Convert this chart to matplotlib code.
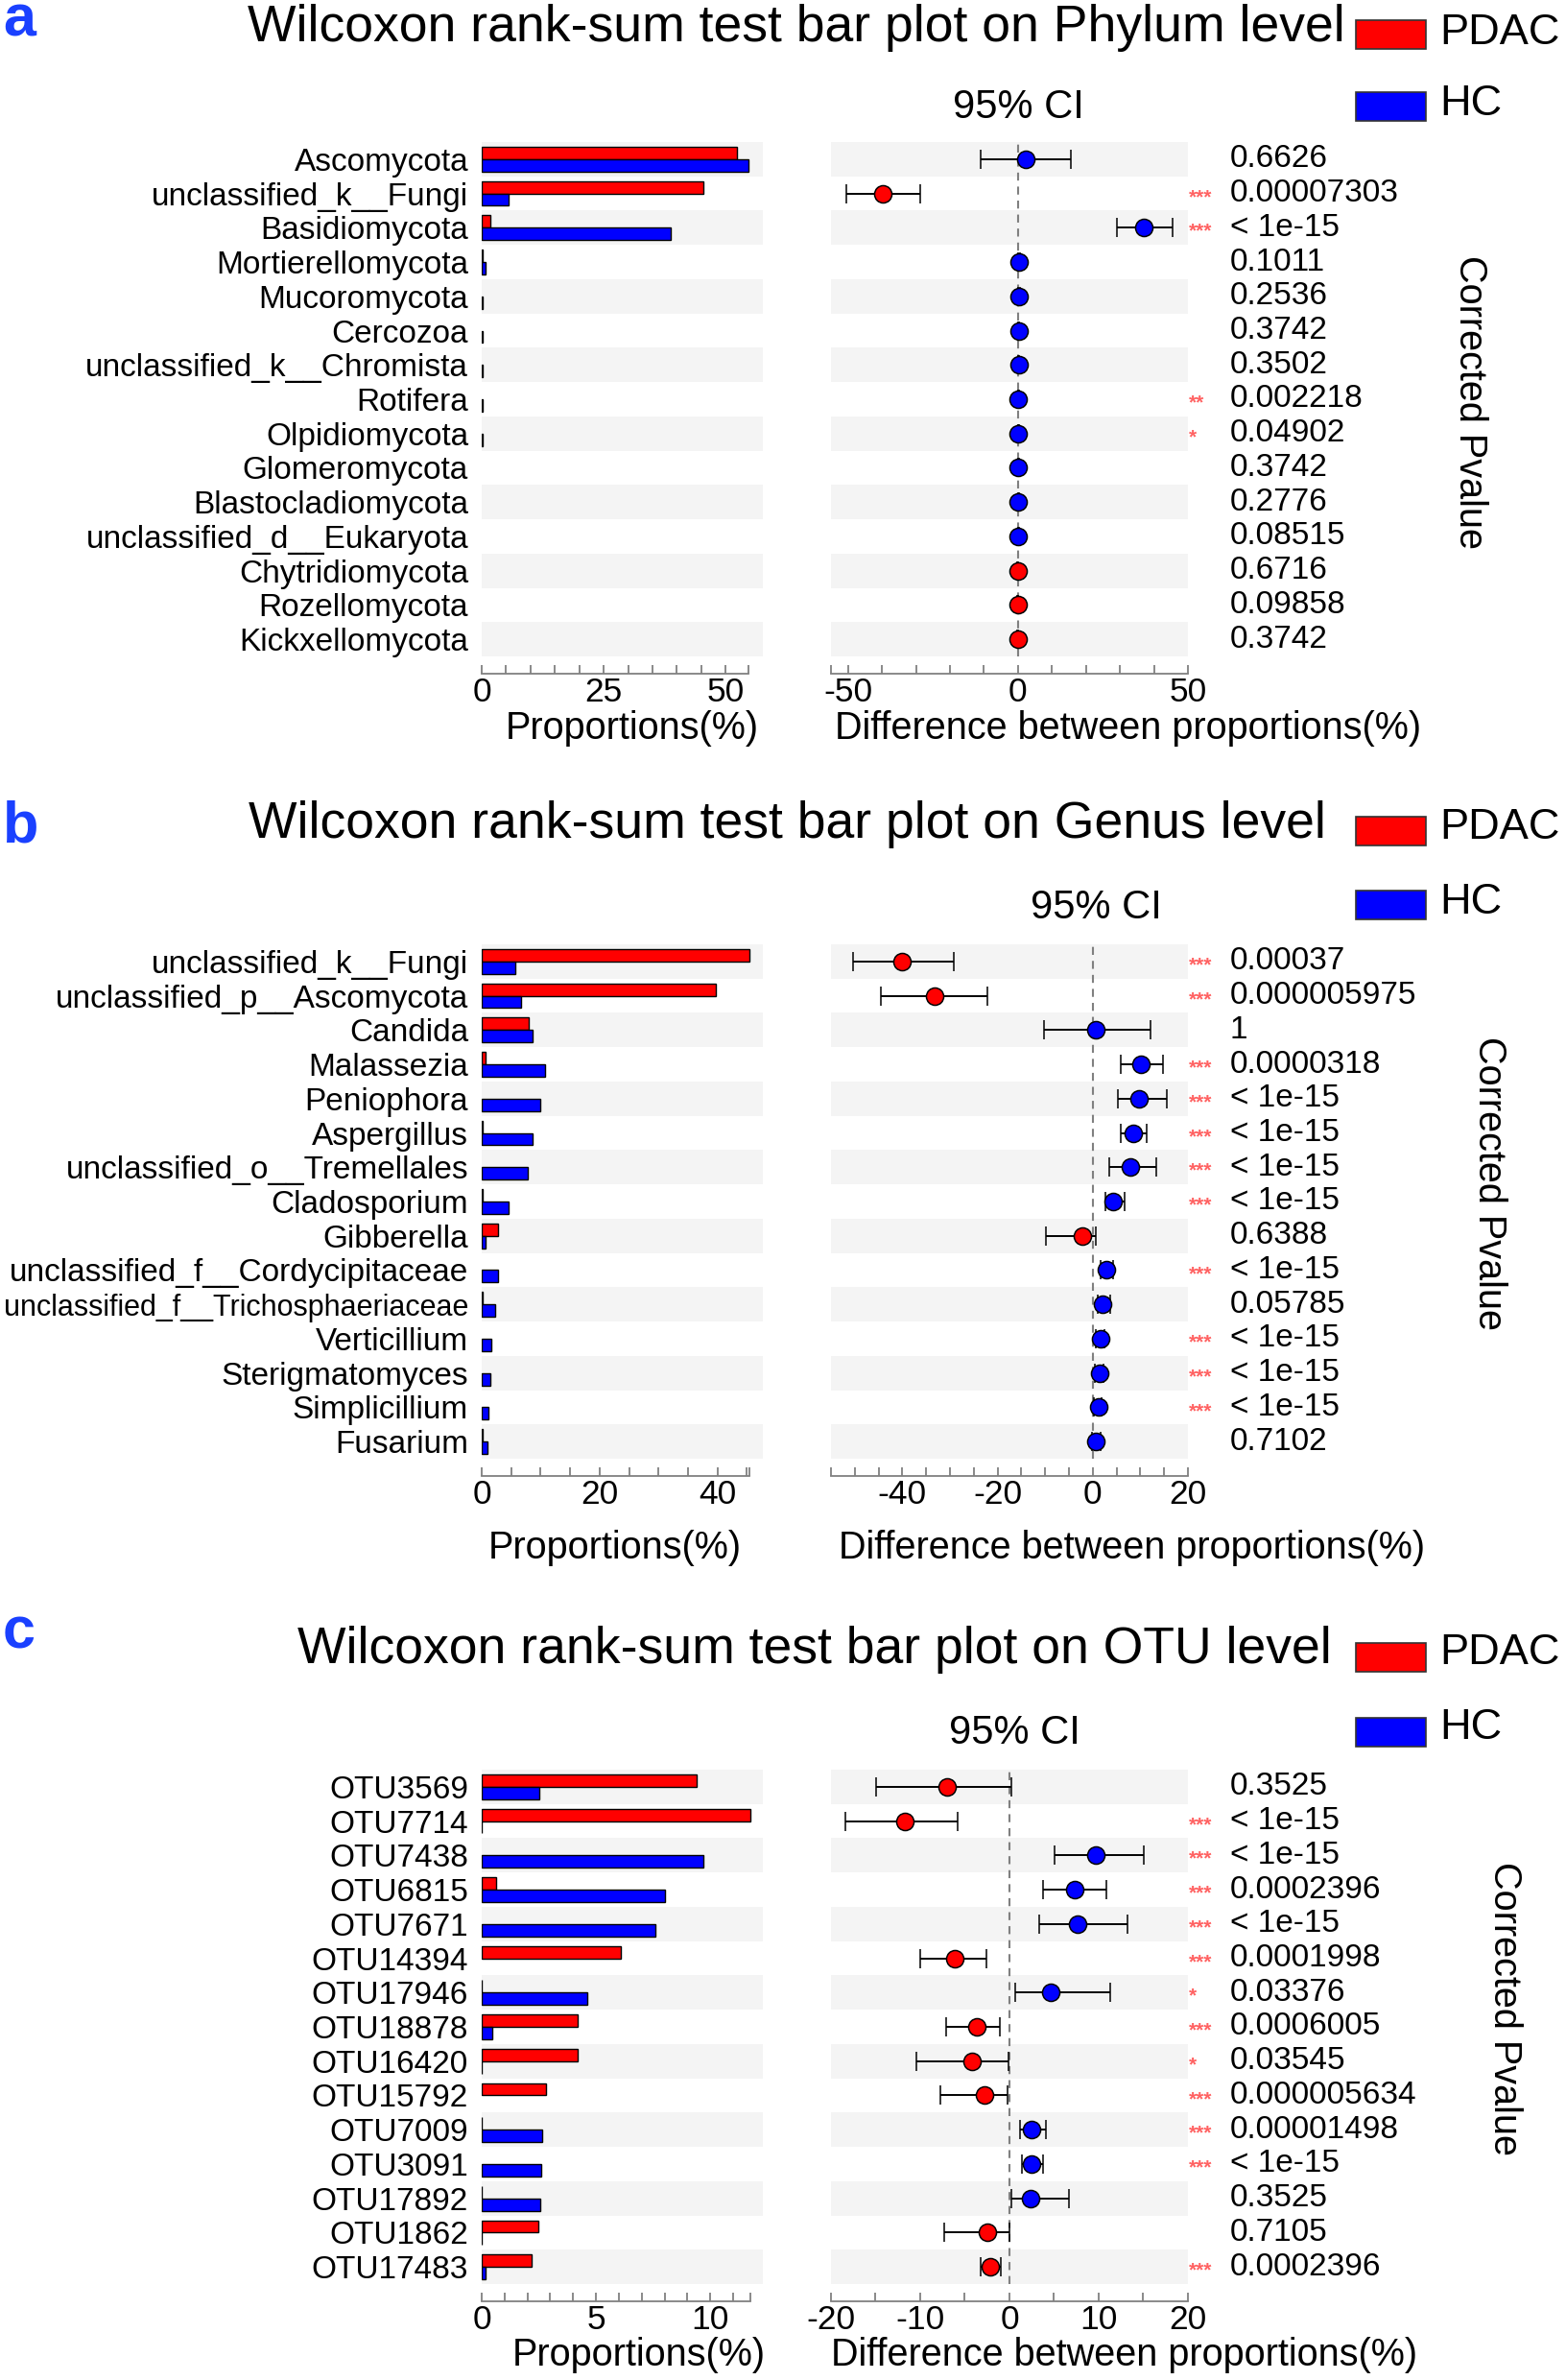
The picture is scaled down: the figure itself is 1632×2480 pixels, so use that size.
import matplotlib
matplotlib.use("Agg")
import matplotlib.pyplot as plt
from matplotlib.patches import Rectangle

plt.rcParams['font.family'] = ['Liberation Sans', 'DejaVu Sans']

# ---------------- Panel a: Phylum ----------------
a_taxa = ["Ascomycota", "unclassified_k__Fungi", "Basidiomycota", "Mortierellomycota",
          "Mucoromycota", "Cercozoa", "unclassified_k__Chromista", "Rotifera",
          "Olpidiomycota", "Glomeromycota", "Blastocladiomycota",
          "unclassified_d__Eukaryota", "Chytridiomycota", "Rozellomycota", "Kickxellomycota"]
a_pdac = [52.2, 45.4, 1.8, 0.1, 0, 0, 0, 0, 0, 0, 0, 0, 0, 0, 0]
a_hc = [54.6, 5.6, 38.8, 0.8, 0.15, 0.1, 0.1, 0.1, 0.1, 0, 0, 0, 0, 0, 0]
a_diff = [2.3, -39.8, 36.9, 0.4, 0.3, 0.2, 0.2, 0.1, 0.1, 0.1, 0.1, 0.1, -0.05, -0.05, -0.05]
a_lo = [-11.1, -50.6, 29.0, 0.1, 0.1, 0.0, 0.0, 0.0, 0.0, 0.0, 0.0, 0.0, -0.2, -0.2, -0.2]
a_hi = [15.6, -28.7, 45.4, 0.7, 0.5, 0.4, 0.4, 0.2, 0.2, 0.2, 0.2, 0.2, 0.1, 0.1, 0.1]
a_pval = ["0.6626", "0.00007303", "< 1e-15", "0.1011", "0.2536", "0.3742", "0.3502",
          "0.002218", "0.04902", "0.3742", "0.2776", "0.08515", "0.6716", "0.09858", "0.3742"]
a_star = ["", "***", "***", "", "", "", "", "**", "*", "", "", "", "", "", ""]

# ---------------- Panel b: Genus ----------------
b_taxa = ["unclassified_k__Fungi", "unclassified_p__Ascomycota", "Candida", "Malassezia",
          "Peniophora", "Aspergillus", "unclassified_o__Tremellales", "Cladosporium",
          "Gibberella", "unclassified_f__Cordycipitaceae", "unclassified_f__Trichosphaeriaceae",
          "Verticillium", "Sterigmatomyces", "Simplicillium", "Fusarium"]
b_pdac = [45.5, 39.8, 7.9, 0.7, 0, 0.1, 0, 0.1, 2.8, 0, 0.1, 0, 0, 0, 0.1]
b_hc = [5.7, 6.6, 8.7, 10.8, 9.9, 8.7, 7.8, 4.5, 0.6, 2.7, 2.3, 1.7, 1.5, 1.2, 1.0]
b_diff = [-40.0, -33.2, 0.6, 10.1, 9.8, 8.6, 7.9, 4.3, -2.2, 2.8, 2.1, 1.6, 1.4, 1.2, 0.7]
b_lo = [-50.3, -44.5, -10.2, 5.9, 5.2, 5.9, 3.5, 2.7, -9.8, 1.6, 1.0, 0.7, 0.5, 0.3, -0.1]
b_hi = [-29.1, -22.2, 12.1, 14.8, 15.5, 11.4, 13.3, 6.6, 0.6, 4.2, 3.7, 2.4, 2.2, 1.8, 1.6]
b_pval = ["0.00037", "0.000005975", "1", "0.0000318", "< 1e-15", "< 1e-15", "< 1e-15",
          "< 1e-15", "0.6388", "< 1e-15", "0.05785", "< 1e-15", "< 1e-15", "< 1e-15", "0.7102"]
b_star = ["***", "***", "", "***", "***", "***", "***", "***", "", "***", "", "***", "***", "***", ""]

# ---------------- Panel c: OTU ----------------
c_taxa = ["OTU3569", "OTU7714", "OTU7438", "OTU6815", "OTU7671", "OTU14394", "OTU17946",
          "OTU18878", "OTU16420", "OTU15792", "OTU7009", "OTU3091", "OTU17892", "OTU1862", "OTU17483"]
c_pdac = [9.4, 11.75, 0, 0.64, 0, 6.1, 0.02, 4.2, 4.2, 2.8, 0.02, 0, 0.02, 2.46, 2.2]
c_hc = [2.5, 0.02, 9.7, 8.0, 7.6, 0, 4.6, 0.48, 0.02, 0, 2.66, 2.6, 2.57, 0.02, 0.18]
c_diff = [-7.0, -11.7, 9.7, 7.3, 7.6, -6.1, 4.6, -3.7, -4.2, -2.8, 2.5, 2.5, 2.4, -2.5, -2.1]
c_lo = [-14.9, -18.4, 5.1, 3.8, 3.3, -10.0, 0.6, -7.1, -10.4, -7.7, 1.2, 1.4, 0.2, -7.3, -3.2]
c_hi = [0.2, -5.8, 15.1, 10.9, 13.2, -2.6, 11.3, -1.1, -0.1, -0.2, 4.1, 3.8, 6.7, 0.0, -1.0]
c_pval = ["0.3525", "< 1e-15", "< 1e-15", "0.0002396", "< 1e-15", "0.0001998", "0.03376",
          "0.0006005", "0.03545", "0.000005634", "0.00001498", "< 1e-15", "0.3525", "0.7105", "0.0002396"]
c_star = ["", "***", "***", "***", "***", "***", "*", "***", "*", "***", "***", "***", "", "", "***"]

groups = ["PDAC", "HC"]
titles = ["Wilcoxon rank-sum test bar plot on Phylum level",
          "Wilcoxon rank-sum test bar plot on Genus level",
          "Wilcoxon rank-sum test bar plot on OTU level"]

# ---------------- styling / layout ----------------
W, H = 1633, 2480
DPI = 100
RED, BLUE = "#ff0000", "#0000ff"
BAND = "#f4f4f4"
GREY = "#808080"
STAR = "#ff6262"
ROWH = 536.0

fig = plt.figure(figsize=(W / DPI, H / DPI), dpi=DPI)


def fx(x):
    return x / W


def fy(y):
    return 1 - y / H


def ftext(x, y, s, **kw):
    fig.text(fx(x), fy(y), s, **kw)


def style_bottom(ax, lo, hi, ticks, labels):
    for s in ["top", "right", "left"]:
        ax.spines[s].set_visible(False)
    sp = ax.spines["bottom"]
    sp.set_position(("outward", 13))
    sp.set_bounds(lo, hi)
    sp.set_color(GREY)
    sp.set_linewidth(1.3)
    ax.set_xticks(ticks)
    ax.set_xticklabels(labels, fontsize=25.5)
    ax.tick_params(axis="x", direction="in", length=6.5, width=1.3, color=GREY, pad=2)


def panel(top, taxa, pdac, hc, diff, lo, hi, pval, star, cfg):
    n = len(taxa)
    rows = list(range(n))
    bottom_px = top + ROWH
    axb = fig.add_axes([fx(502), fy(bottom_px), (795 - 502) / W, ROWH / H])
    axc = fig.add_axes([fx(866), fy(bottom_px), (1238 - 866) / W, ROWH / H])
    for ax in (axb, axc):
        ax.set_ylim(n - 0.5, -0.5)
        ax.patch.set_alpha(0)
        for i in rows:
            if i % 2 == 0:
                ax.axhspan(i - 0.5, i + 0.5, color=BAND, zorder=0, lw=0)
    axb.set_xlim(0, cfg["bar_xmax"])
    lw_p = [1.0 if v > 0 else 0 for v in pdac]
    lw_h = [1.0 if v > 0 else 0 for v in hc]
    axb.barh([r - 0.18 for r in rows], pdac, height=0.36, color=RED,
             edgecolor="black", linewidth=lw_p, zorder=2)
    axb.barh([r + 0.18 for r in rows], hc, height=0.36, color=BLUE,
             edgecolor="black", linewidth=lw_h, zorder=2)
    axb.set_yticks(rows)
    axb.set_yticklabels(taxa, fontsize=24)
    axb.tick_params(axis="y", length=0, pad=10)
    for lab, t in zip(axb.get_yticklabels(), taxa):
        if len(t) > 32:
            lab.set_fontsize(22)
    style_bottom(axb, 0, max(max(pdac), max(hc)), cfg["bar_ticks"], cfg["bar_labels"])

    axc.set_xlim(*cfg["ci_xlim"])
    axc.axvline(0, color=GREY, lw=1.5, ls=(0, (4, 3)), zorder=1)
    for r, d, l, h in zip(rows, diff, lo, hi):
        col = BLUE if d > 0 else RED
        axc.errorbar([d], [r], xerr=[[d - l], [h - d]], fmt="o", color="black",
                     ecolor="black", elinewidth=1.4, capsize=7, capthick=1.4,
                     markersize=13, markerfacecolor=col, markeredgecolor="black",
                     markeredgewidth=1.1, zorder=3)
    axc.set_yticks([])
    style_bottom(axc, cfg["ci_xlim"][0], cfg["ci_xlim"][1], cfg["ci_ticks"], cfg["ci_labels"])

    rowh = ROWH / n
    for i, (p, s) in enumerate(zip(pval, star)):
        yc = top + rowh * (i + 0.5)
        ftext(1282, yc, p, fontsize=24, ha="left", va="center")
        if s:
            ftext(1239, yc + 4, s, fontsize=15, ha="left", va="center", color=STAR,
                  fontweight="bold")

    ftext(cfg["title_x"], cfg["title_y"], cfg["title"], fontsize=38.5, ha="center", va="baseline")
    ftext(3, cfg["lab_y"], cfg["lab"], fontsize=44, fontweight="bold", color="#1a40ff",
          ha="left", va="baseline")
    ftext(cfg["ci_x"], cfg["ci_y"], "95% CI", fontsize=30, ha="center", va="center")
    ftext(cfg["cp_x"], cfg["cp_y"], "Corrected Pvalue", fontsize=28.5, rotation=-90,
          ha="center", va="center")
    ftext(cfg["xl1_x"], cfg["xl_y"], "Proportions(%)", fontsize=28.5, ha="center", va="center")
    ftext(cfg["xl2_x"], cfg["xl_y"], "Difference between proportions(%)", fontsize=28.5,
          ha="center", va="center")
    for (py, ty), g, col in zip(cfg["leg"], groups, [RED, BLUE]):
        fig.add_artist(Rectangle((fx(1413), fy(py + 30)), 73 / W, 30 / H,
                                 transform=fig.transFigure, facecolor=col,
                                 edgecolor="#333333", lw=1.2))
        ftext(1500, ty, g, fontsize=32.5, ha="left", va="center")


cfg_a = dict(bar_xmax=57.6,
             bar_ticks=[0, 5, 10, 15, 20, 25, 30, 35, 40, 45, 50, 54.6],
             bar_labels=["0", "", "", "", "", "25", "", "", "", "", "50", ""],
             ci_xlim=(-55, 50),
             ci_ticks=[-55, -50, -40, -30, -20, -10, 0, 10, 20, 30, 40, 50],
             ci_labels=["", "-50", "", "", "", "", "0", "", "", "", "", "50"],
             title=titles[0], title_x=830, title_y=43, lab="a", lab_y=38,
             ci_x=1061, ci_y=112, cp_x=1532, cp_y=419,
             xl1_x=659, xl2_x=1176, xl_y=759,
             leg=[(21, 34), (96, 109)])
cfg_b = dict(bar_xmax=47.7,
             bar_ticks=[0, 5, 10, 15, 20, 25, 30, 35, 40, 45, 45.5],
             bar_labels=["0", "", "", "", "20", "", "", "", "40", "", ""],
             ci_xlim=(-55, 20),
             ci_ticks=[-55, -50, -45, -40, -35, -30, -25, -20, -15, -10, -5, 0, 5, 10, 15, 20],
             ci_labels=["", "", "", "-40", "", "", "", "-20", "", "", "", "0", "", "", "", "20"],
             title=titles[1], title_x=820, title_y=873, lab="b", lab_y=878,
             ci_x=1142, ci_y=946, cp_x=1552, cp_y=1233,
             xl1_x=641, xl2_x=1180, xl_y=1613,
             leg=[(851, 862), (928, 941)])
cfg_c = dict(bar_xmax=12.3,
             bar_ticks=[0, 1, 2, 3, 4, 5, 6, 7, 8, 9, 10, 11, 11.75],
             bar_labels=["0", "", "", "", "", "5", "", "", "", "", "10", "", ""],
             ci_xlim=(-20, 20),
             ci_ticks=[-20, -15, -10, -5, 0, 5, 10, 15, 20],
             ci_labels=["-20", "", "-10", "", "0", "", "10", "", "20"],
             title=titles[2], title_x=849, title_y=1733, lab="c", lab_y=1718,
             ci_x=1057, ci_y=1806, cp_x=1568, cp_y=2093,
             xl1_x=666, xl2_x=1172, xl_y=2454,
             leg=[(1712, 1722), (1790, 1800)])

panel(148, a_taxa, a_pdac, a_hc, a_diff, a_lo, a_hi, a_pval, a_star, cfg_a)
panel(984, b_taxa, b_pdac, b_hc, b_diff, b_lo, b_hi, b_pval, b_star, cfg_b)
panel(1844, c_taxa, c_pdac, c_hc, c_diff, c_lo, c_hi, c_pval, c_star, cfg_c)

fig.savefig("out.png", dpi=DPI)
